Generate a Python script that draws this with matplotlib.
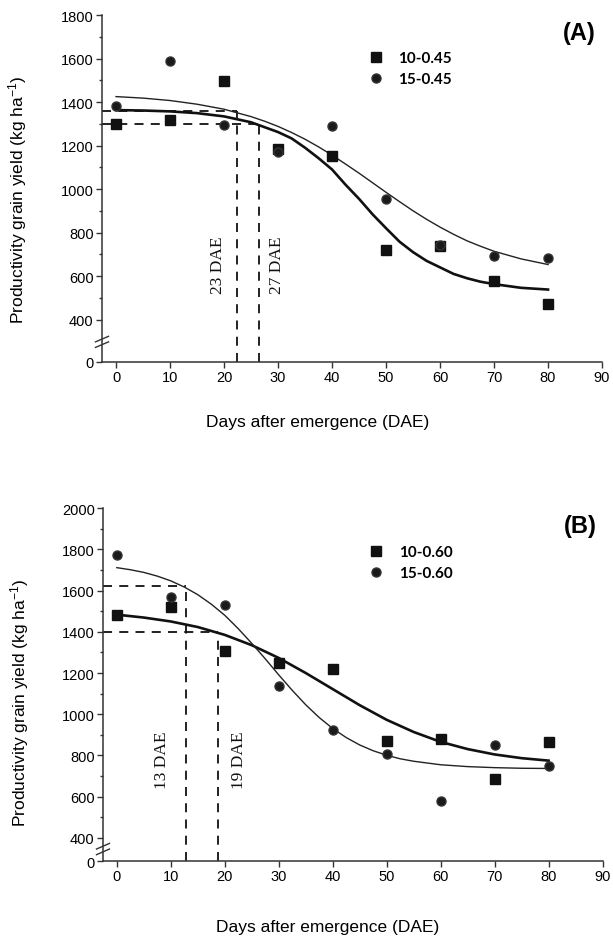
import numpy as np
import matplotlib
matplotlib.use('Agg')
import matplotlib.pyplot as plt
from matplotlib.ticker import FixedLocator

# ---------------- 数据 ----------------
dae = [0, 10, 20, 30, 40, 50, 60, 70, 80]

# (A) 0.45
a_sq = [1297, 1317, 1495, 1186, 1150, 722, 740, 578, 472]      # 10-0.45
a_ci = [1380, 1590, 1295, 1172, 1292, 954, 745, 691, 683]      # 15-0.45
# (B) 0.60
b_sq = [1481, 1519, 1309, 1249, 1221, 872, 880, 687, 865]      # 10-0.60
b_ci = [1771, 1570, 1528, 1137, 924, 805, 580, 850, 751]       # 15-0.60

# fitted curves
a_fx_sq = [0, 5, 10, 15, 20, 25, 30, 32.5, 35, 37.5, 40, 42.5, 45, 47.5, 50, 52.5, 55,
           57.5, 60, 62.5, 65, 67.5, 70, 75, 80]
a_fit_sq = [1363, 1361, 1357, 1349, 1334, 1307, 1262, 1233, 1190, 1142, 1090, 1020, 955,
            884, 820, 758, 710, 670, 640, 610, 590, 574, 563, 546, 538]
a_fx_ci = [0, 5, 10, 15, 20, 25, 27.5, 30, 32.5, 35, 37.5, 40, 42.5, 45, 47.5, 50, 52.5,
           55, 57.5, 60, 62.5, 65, 67.5, 70, 75, 80]
a_fit_ci = [1425, 1418, 1407, 1390, 1367, 1333, 1312, 1288, 1260, 1229, 1194, 1156, 1115,
            1073, 1029, 985, 942, 900, 861, 825, 792, 762, 737, 714, 679, 653]

b_fx_sq = [0, 5, 10, 15, 20, 25, 30, 35, 40, 45, 50, 55, 60, 65, 70, 75, 80]
b_fit_sq = [1483, 1469, 1450, 1423, 1385, 1335, 1273, 1200, 1122, 1044, 973, 914, 866,
            831, 805, 787, 775]
b_fx_ci = [0, 2.5, 5, 7.5, 10, 12.5, 15, 17.5, 20, 22.5, 25, 27.5, 30, 32.5, 35, 37.5, 40,
           42.5, 45, 47.5, 50, 52.5, 55, 60, 65, 70, 75, 80]
b_fit_ci = [1711, 1701, 1688, 1670, 1647, 1617, 1580, 1534, 1480, 1415, 1344, 1269, 1191,
            1116, 1046, 984, 931, 887, 851, 823, 801, 784, 772, 755, 746, 741, 738, 737]

# dashed guides: (day, yield)
a_guides = [(22.4, 1360), (26.5, 1297)]
b_guides = [(12.9, 1620), (18.7, 1400)]
a_notes = ['23 DAE', '27 DAE']
b_notes = ['13 DAE', '19 DAE']

plt.rcParams['font.family'] = ['Liberation Sans', 'DejaVu Sans']
plt.rcParams['font.size'] = 10.5
plt.rcParams['mathtext.fontset'] = 'custom'
plt.rcParams['mathtext.rm'] = 'Liberation Sans'
plt.rcParams['mathtext.default'] = 'regular'


def broken_scale(k):
    # below 400 the axis is compressed (axis break)
    def fwd(v):
        v = np.asarray(v, dtype=float)
        return np.where(v >= 400, v, 400 - (400 - v) * k)

    def inv(v):
        v = np.asarray(v, dtype=float)
        return np.where(v >= 400, v, 400 - (400 - v) / k)
    return fwd, inv


def draw_panel(ax, sq, ci, fits, guides, notes, note_pos, ytop, k,
               names, tag, brk_y, xmin):
    ax.set_yscale('function', functions=broken_scale(k))
    ax.set_xlim(xmin, 90)
    ax.set_ylim(0, ytop)

    (fx_sq, fy_sq), (fx_ci, fy_ci) = fits
    ax.plot(fx_sq, fy_sq, color='#111111', lw=1.9, zorder=3, solid_joinstyle='round')
    ax.plot(fx_ci, fy_ci, color='#222222', lw=1.0, zorder=3, solid_joinstyle='round')
    h1, = ax.plot(dae, sq, 's', ms=6.5, color='#111111', zorder=4, label=names[0])
    h2, = ax.plot(dae, ci, 'o', ms=6.5, color='#1a1a1a', mec='#333333', zorder=4, label=names[1])

    # dashed guide lines
    for gx, gy in guides:
        ax.plot([xmin, gx], [gy, gy], color='#111111', lw=1.3, ls=(0, (5, 4)), zorder=2)
        ax.plot([gx, gx], [0, gy], color='#111111', lw=1.3, ls=(0, (5, 4)), zorder=2)
    for (tx, ty), txt in zip(note_pos, notes):
        ax.text(tx, ty, txt, rotation=90, ha='center', va='center',
                fontsize=12.5, family='Liberation Serif', color='#111111')

    ax.legend(handles=[h1, h2], loc='upper left', bbox_to_anchor=(0.535, 0.895),
              frameon=False, handlelength=0.8, handletextpad=1.1,
              labelspacing=0.45, borderpad=0, borderaxespad=0,
              prop={'family': 'Lato', 'weight': 'bold', 'size': 11})

    ax.text(0.955, 0.95, tag, transform=ax.transAxes, ha='center', va='center',
            fontsize=17, fontweight='bold')

    # axes style
    for s in ['top', 'right']:
        ax.spines[s].set_visible(False)
    for s in ['left', 'bottom']:
        ax.spines[s].set_linewidth(1.1)
        ax.spines[s].set_color('#333333')
    ax.set_xticks(range(0, 91, 10))
    majors = [0] + list(range(400, ytop + 1, 200))
    ax.yaxis.set_major_locator(FixedLocator(majors))
    ax.yaxis.set_minor_locator(FixedLocator(list(range(500, ytop, 200))))
    ax.tick_params(which='major', direction='out', length=4, width=1.0, color='#333333',
                   labelsize=10.5, pad=2)
    ax.tick_params(which='minor', direction='out', length=2.5, width=1.0, color='#333333')

    # break marks
    for off in (-0.008, 0.008):
        ax.plot([-0.013, 0.013], [brk_y + off - 0.008, brk_y + off + 0.008],
                transform=ax.transAxes, color='#333333', lw=1.0, clip_on=False)

    ax.set_ylabel('Productivity grain yield (kg ha$^{-1}$)', fontsize=12.5)
    ax.set_xlabel('Days after emergence (DAE)', fontsize=12.5)


fig = plt.figure(figsize=(6.13, 9.37), dpi=100)

ax1 = fig.add_axes([0.1664, 0.6126, 0.8157, 0.3703])
draw_panel(ax1, a_sq, a_ci, [(a_fx_sq, a_fit_sq), (a_fx_ci, a_fit_ci)], a_guides, a_notes,
           [(18.9, 655), (29.8, 655)], 1800, 0.4875, ['10-0.45', '15-0.45'],
           '(A)', 0.058, -2.6)
ax1.yaxis.set_label_coords(-0.145, 0.47)
ax1.xaxis.set_label_coords(0.432, -0.15)

ax2 = fig.add_axes([0.168, 0.080, 0.815, 0.3767])
draw_panel(ax2, b_sq, b_ci, [(b_fx_sq, b_fit_sq), (b_fx_ci, b_fit_ci)], b_guides, b_notes,
           [(8.4, 784), (22.7, 784)], 2000, 0.28, ['10-0.60', '15-0.60'],
           '(B)', 0.034, -2.56)
ax2.yaxis.set_label_coords(-0.145, 0.45)
ax2.xaxis.set_label_coords(0.45, -0.165)

fig.savefig('out.png', dpi=100)
